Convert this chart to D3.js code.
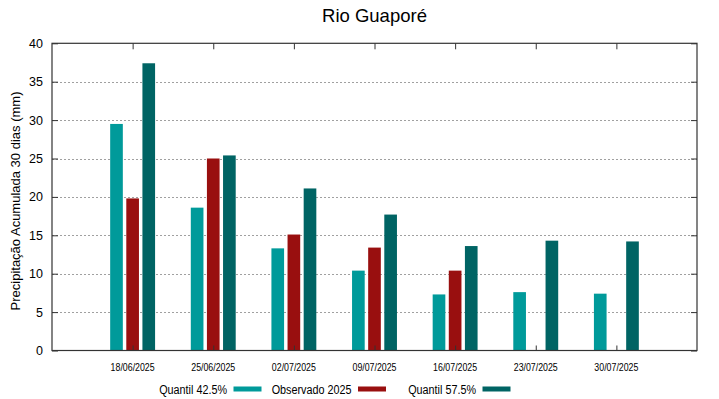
<!DOCTYPE html>
<html>
<head>
<meta charset="utf-8">
<script src="https://cdn.jsdelivr.net/npm/d3@7"></script>
<style>
body { margin: 0; background: #fff; }
svg { display: block; }
text { font-family: "Liberation Sans", Arial, sans-serif; fill: #000; }
</style>
</head>
<body>
<script>
var dates = ['18/06/2025', '25/06/2025', '02/07/2025', '09/07/2025', '16/07/2025', '23/07/2025', '30/07/2025'];
var q425 = [29.5, 18.6, 13.3, 10.4, 7.3, 7.6, 7.4];
var obs = [19.8, 25.0, 15.1, 13.4, 10.4, null, null];
var q575 = [37.4, 25.4, 21.1, 17.7, 13.6, 14.3, 14.2];
var yTicks = [0, 5, 10, 15, 20, 25, 30, 35, 40];

var series = [
	{name: 'Quantil 42.5%', values: q425, color: '#009a9a', offset: -0.2},
	{name: 'Observado 2025', values: obs, color: '#990f0f', offset: 0},
	{name: 'Quantil 57.5%', values: q575, color: '#006464', offset: 0.2}
];

var W = 719, H = 399;
var plotL = 52, plotR = 697, plotT = 43.3, plotB = 350.5;
var barW = 0.157;
var narrow = 0.8; // squeeze for the condensed labels

var svg = d3.select('body').append('svg')
	.attr('width', W)
	.attr('height', H);

var x = d3.scaleLinear().domain([-1, 7]).range([plotL, plotR]);
var y = d3.scaleLinear().domain([0, 40]).range([plotB, plotT]);

// grid
svg.append('g')
	.selectAll('line')
	.data(yTicks.slice(1, -1))
	.enter().append('line')
	.attr('x1', plotL)
	.attr('x2', plotR)
	.attr('y1', function(d) { return Math.round(y(d)) + 0.5; })
	.attr('y2', function(d) { return Math.round(y(d)) + 0.5; })
	.attr('stroke', '#a0a0a0')
	.attr('stroke-width', 1)
	.attr('stroke-dasharray', '2,2');

// bars
series.forEach(function(s) {
	svg.append('g')
		.selectAll('rect')
		.data(s.values.map(function(v, i) { return {v: v, i: i}; }).filter(function(d) { return d.v != null; }))
		.enter().append('rect')
		.attr('x', function(d) { return x(d.i + s.offset - barW / 2); })
		.attr('width', x(barW) - x(0))
		.attr('y', function(d) { return y(d.v); })
		.attr('height', function(d) { return y(0) - y(d.v); })
		.attr('fill', s.color);
});

// axes
var xAxisB = d3.axisBottom(x).tickValues(d3.range(dates.length)).tickSize(-5).tickFormat('');
var xAxisT = d3.axisTop(x).tickValues(d3.range(dates.length)).tickSize(-6).tickFormat('');
var yAxisL = d3.axisLeft(y).tickValues(yTicks).tickSize(-6).tickPadding(9);
var yAxisR = d3.axisRight(y).tickValues(yTicks).tickSize(-6).tickFormat('');

function styleAxis(g) {
	g.select('.domain').remove();
	g.selectAll('.tick line').attr('stroke', '#333');
}

svg.append('g').attr('transform', 'translate(0,' + plotB + ')').call(xAxisB).call(styleAxis);
svg.append('g').attr('transform', 'translate(0,' + plotT + ')').call(xAxisT).call(styleAxis);
svg.append('g').attr('transform', 'translate(' + plotL + ',0)').call(yAxisL).call(styleAxis)
	.selectAll('text')
	.style('font-family', '"Liberation Sans", Arial, sans-serif')
	.style('font-size', '12.5px')
	.attr('fill', '#000');
svg.append('g').attr('transform', 'translate(' + plotR + ',0)').call(yAxisR).call(styleAxis);

// border
svg.append('rect')
	.attr('x', plotL)
	.attr('y', plotT)
	.attr('width', plotR - plotL)
	.attr('height', plotB - plotT)
	.attr('fill', 'none')
	.attr('stroke', '#333')
	.attr('stroke-width', 1.2);

// x tick labels
svg.append('g')
	.selectAll('text')
	.data(dates)
	.enter().append('text')
	.attr('transform', function(d, i) { return 'translate(' + x(i) + ',370.5) scale(' + narrow + ',1)'; })
	.attr('text-anchor', 'middle')
	.style('font-size', '11px')
	.text(function(d) { return d; });

// title
svg.append('text')
	.attr('x', (plotL + plotR) / 2)
	.attr('y', 21.7)
	.attr('text-anchor', 'middle')
	.style('font-size', '18.5px')
	.text('Rio Guaporé');

// y label
svg.append('text')
	.attr('transform', 'translate(20,201) rotate(-90)')
	.attr('text-anchor', 'middle')
	.style('font-size', '13px')
	.text('Precipitação Acumulada 30 dias (mm)');

// legend
var legendX = [227, 351.5, 476];
var legend = svg.append('g')
	.selectAll('g')
	.data(series)
	.enter().append('g')
	.attr('transform', function(d, i) { return 'translate(' + legendX[i] + ',389)'; });

legend.append('text')
	.attr('transform', 'translate(0,4.5) scale(' + narrow + ',1)')
	.attr('text-anchor', 'end')
	.style('font-size', '13.5px')
	.text(function(d) { return d.name; });

legend.append('rect')
	.attr('x', 6.5)
	.attr('y', -2.5)
	.attr('width', 28)
	.attr('height', 5)
	.attr('fill', function(d) { return d.color; });
</script>
</body>
</html>
